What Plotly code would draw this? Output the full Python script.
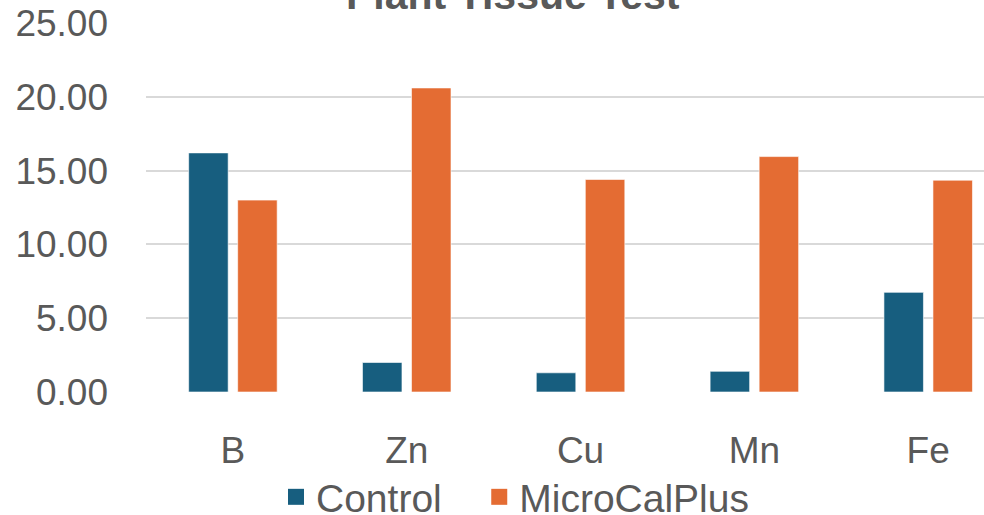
import plotly.graph_objects as go

categories = ["B", "Zn", "Cu", "Mn", "Fe"]
control = [16.2, 2.0, 1.3, 1.4, 6.75]
microcalplus = [13.0, 20.6, 14.4, 15.95, 14.35]
y_ticks = [0, 5, 10, 15, 20, 25]
y_tick_labels = ["0.00", "5.00", "10.00", "15.00", "20.00", "25.00"]

BLUE = "#175E7F"
ORANGE = "#E46C33"
TXT = "#595959"
FONT = "Liberation Sans, Arial, sans-serif"
NB = "\u00a0"

fig = go.Figure()
fig.add_trace(go.Bar(x=categories, y=control, name="Control", marker=dict(color=BLUE, line=dict(color="rgba(255,255,255,0.6)", width=1)), showlegend=False))
fig.add_trace(go.Bar(x=categories, y=microcalplus, name="MicroCalPlus", marker=dict(color=ORANGE, line=dict(color="rgba(255,255,255,0.6)", width=1)), showlegend=False))
# legend entries
fig.add_trace(go.Scatter(x=[None], y=[None], mode="markers", name="Control" + NB * 3, marker=dict(symbol="square", size=22, color=BLUE)))
fig.add_trace(go.Scatter(x=[None], y=[None], mode="markers", name="MicroCalPlus", marker=dict(symbol="square", size=22, color=ORANGE)))

fig.update_layout(
    width=984, height=515,
    margin=dict(l=145.5, r=0, t=22.5, b=122.7, pad=0, autoexpand=False),
    paper_bgcolor="white", plot_bgcolor="white",
    barmode="group", bargap=0.436, bargroupgap=0.194,
    font=dict(family=FONT, size=37, color=TXT),
    showlegend=True,
    legend=dict(orientation="h", xref="container", yref="container", x=0.2805, xanchor="left", y=0.035, yanchor="middle",
                font=dict(size=39, color=TXT), itemsizing="trace", bgcolor="rgba(0,0,0,0)"),
    xaxis=dict(range=[-0.5, 4.321], showgrid=False, showline=False, zeroline=False, ticks="", automargin=False,
               tickfont=dict(size=37, color=TXT), ticklabelstandoff=33, fixedrange=True),
    yaxis=dict(range=[0, 25], tickvals=y_ticks, ticktext=y_tick_labels, showgrid=True, gridcolor="#D9D9D9", gridwidth=2,
               zeroline=False, showline=False, ticks="", automargin=False,
               tickfont=dict(size=37, color=TXT), ticklabelstandoff=37),
    annotations=[dict(text="<b>Plant Tissue Test</b>", xref="paper", yref="paper", x=(513 - 145.5) / 838.5, y=1,
                      xanchor="center", yanchor="middle", yshift=28, showarrow=False,
                      font=dict(size=41, color=TXT, family=FONT))],
)

fig.write_html("out.html", config={"displayModeBar": False},
               post_script="document.body.style.margin='0';document.body.style.overflow='hidden';")
